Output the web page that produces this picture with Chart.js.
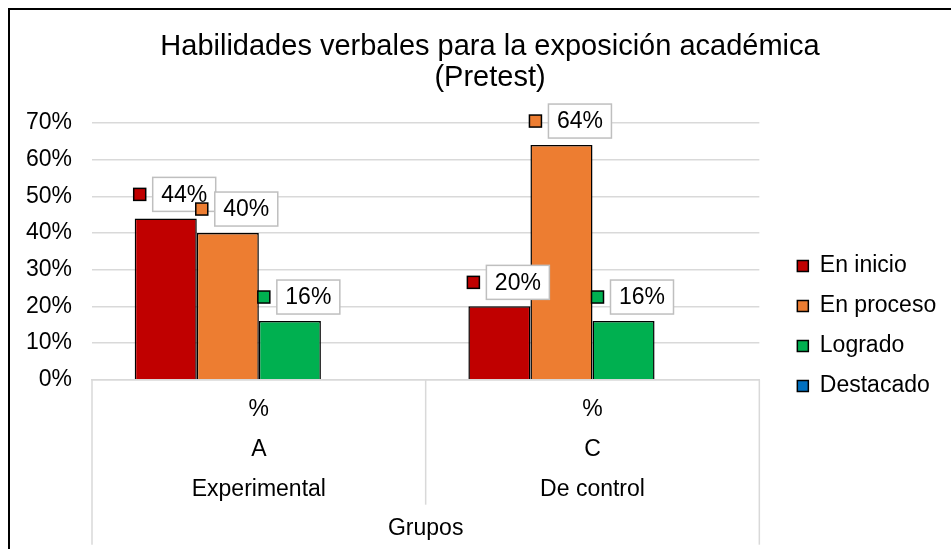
<!DOCTYPE html>
<html>
<head>
<meta charset="utf-8">
<script src="https://cdn.jsdelivr.net/npm/chart.js@4/dist/chart.umd.min.js"></script>
<style>
  html, body { margin: 0; padding: 0; background: #fff; overflow: hidden; }
  .frame { position: absolute; left: 8px; top: 8px; border: 2px solid #000; }
  .box { position: relative; width: 960px; height: 628px; }
</style>
</head>
<body>
<div class="frame"><div class="box"><canvas id="habChart"></canvas></div></div>
<script>
const groups = [["%", "A", "Experimental"], ["%", "C", "De control"]];
const levels = ["En inicio", "En proceso", "Logrado", "Destacado"];
const enInicio = [44, 20];
const enProceso = [40, 64];
const logrado = [16, 16];
const destacado = [0, 0];
const colors = ["#c00000", "#ed7d31", "#00b050", "#0070c0"];

const FONT = "'Liberation Sans', Arial, sans-serif";
Chart.defaults.font.family = FONT;
Chart.defaults.color = "#000";

// boxed data labels with a small colour key, like Excel
const boxLabels = {
  id: "boxLabels",
  afterDatasetsDraw(chart) {
    const ctx = chart.ctx;
    ctx.save();
    ctx.font = "23px " + FONT;
    ctx.textAlign = "center";
    ctx.textBaseline = "middle";
    chart.data.datasets.forEach((ds, i) => {
      chart.getDatasetMeta(i).data.forEach((bar, j) => {
        const v = ds.data[j];
        if (!v) return;
        const left = bar.x - bar.width / 2;
        const cy = bar.y - 24;
        ctx.fillStyle = ds.backgroundColor;
        ctx.strokeStyle = "#000";
        ctx.lineWidth = 1.5;
        ctx.fillRect(left - 1, cy - 6, 12, 12);
        ctx.strokeRect(left - 1, cy - 6, 12, 12);
        ctx.fillStyle = "#fff";
        ctx.strokeStyle = "#bfbfbf";
        ctx.fillRect(left + 18, cy - 17, 63, 34);
        ctx.strokeRect(left + 18, cy - 17, 63, 34);
        ctx.fillStyle = "#000";
        ctx.fillText(v + "%", left + 18 + 31.5, cy + 1);
      });
    });
    ctx.restore();
  }
};

// category separators below the axis (multi-level category style)
const catLines = {
  id: "catLines",
  afterDraw(chart) {
    const x = chart.scales.x;
    const n = chart.data.labels.length;
    const ctx = chart.ctx;
    ctx.save();
    ctx.strokeStyle = "#d9d9d9";
    ctx.lineWidth = 1.5;
    for (let i = 0; i <= n; i++) {
      let px;
      if (i === 0) px = x.left;
      else if (i === n) px = x.right;
      else px = (x.getPixelForValue(i - 1) + x.getPixelForValue(i)) / 2;
      const bottom = (i === 0 || i === n) ? x.top + 165 : x.top + 125;
      ctx.beginPath();
      ctx.moveTo(px, x.top);
      ctx.lineTo(px, bottom);
      ctx.stroke();
    }
    ctx.restore();
  }
};

// leave some spare room on the legend's right so the title centres like the original
const legendRoom = {
  id: "legendRoom",
  afterInit(chart) {
    const lg = chart.legend;
    if (!lg) return;
    const fit = lg.fit;
    lg.fit = function () { fit.call(this); this.width += 19; };
  }
};

const habCtx = document.getElementById("habChart");
new Chart(habCtx, {
  type: "bar",
  data: {
    labels: groups,
    datasets: [enInicio, enProceso, logrado, destacado].map((d, i) => ({
      label: levels[i],
      data: d,
      backgroundColor: colors[i],
      borderColor: "#000",
      borderWidth: c => (c.type === "data" && c.raw === 0) ? 0 : 1.5,
      borderSkipped: "bottom",
      categoryPercentage: 0.744,
      barPercentage: 1
    }))
  },
  options: {
    responsive: true,
    maintainAspectRatio: false,
    animation: false,
    layout: { padding: { left: 16, right: 16, top: 0, bottom: 101 } },
    plugins: {
      title: {
        display: true,
        text: ["Habilidades verbales para la exposición académica", "(Pretest)"],
        font: { size: 29, weight: "normal", lineHeight: 1.07 },
        color: "#000",
        padding: { top: 21, bottom: 30 }
      },
      legend: {
        position: "right",
        title: { display: true, text: " ", font: { size: 10 }, padding: { top: 93, bottom: 0 } },
        labels: {
          boxWidth: 11,
          boxHeight: 11,
          padding: 17,
          font: { size: 23 },
          color: "#000",
          generateLabels: chart => Chart.defaults.plugins.legend.labels.generateLabels(chart)
            .map(l => Object.assign(l, { lineWidth: 1.5, strokeStyle: "#000" }))
        }
      },
      tooltip: { enabled: false }
    },
    scales: {
      x: {
        offset: true,
        grid: { display: false, drawTicks: false },
        border: { display: true, color: "#d9d9d9", width: 1.5 },
        ticks: { font: { size: 23, lineHeight: 1.74 }, padding: 10, maxRotation: 0 },
        title: { display: true, text: "Grupos", font: { size: 23, lineHeight: 0.75 }, padding: { top: 0, bottom: 0 } }
      },
      y: {
        min: 0,
        max: 70,
        ticks: { stepSize: 10, font: { size: 23 }, padding: 20, callback: v => v + "%" },
        grid: { color: "#d9d9d9", lineWidth: 1.5, drawTicks: false },
        border: { display: false },
        afterFit: s => { s.width = 66; }
      },
      y2: {
        position: "right",
        grid: { display: false },
        border: { display: false },
        ticks: { display: false },
        afterFit: s => { s.width = 21; }
      }
    }
  },
  plugins: [boxLabels, catLines, legendRoom]
});
</script>
</body>
</html>
